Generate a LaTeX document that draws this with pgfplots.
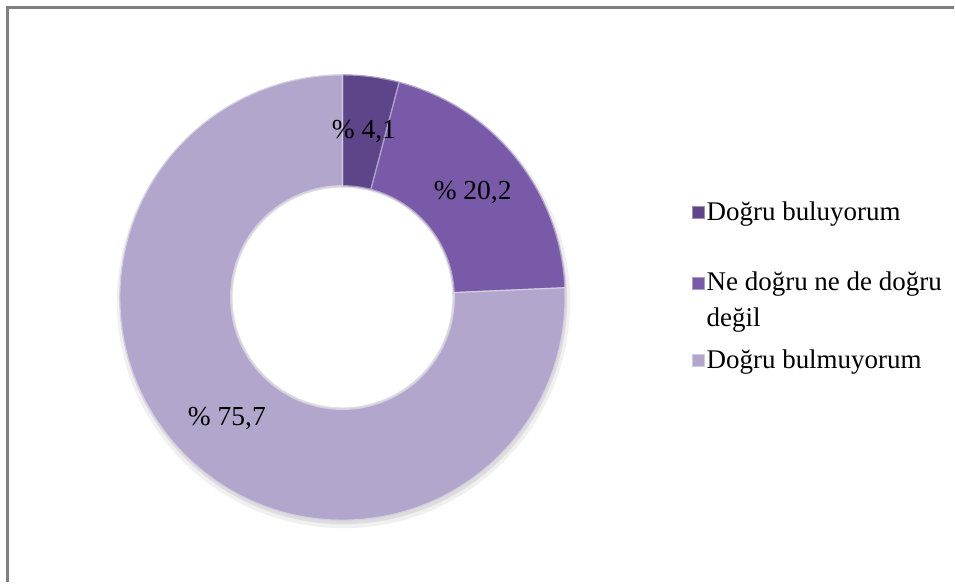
\documentclass[border=0pt]{standalone}
\usepackage{pgfplots}
\pgfplotsset{compat=1.18}
\usepackage{pgfplotstable}
\usepackage{fontspec}
\setmainfont{Liberation Serif}
\definecolor{cA}{RGB}{94,68,136}
\definecolor{cB}{RGB}{120,90,168}
\definecolor{cC}{RGB}{178,166,204}
\definecolor{frame}{RGB}{128,128,128}
\pgfplotstableread{
share
4.1
20.2
75.7
}\data
\pgfplotstablegetelem{0}{share}\of\data \let\va\pgfplotsretval
\pgfplotstablegetelem{1}{share}\of\data \let\vb\pgfplotsretval
\pgfplotstablegetelem{2}{share}\of\data \let\vc\pgfplotsretval
\pgfmathsetmacro\aA{90}
\pgfmathsetmacro\aB{\aA-3.6*\va}
\pgfmathsetmacro\aC{\aB-3.6*\vb}
\pgfmathsetmacro\aD{\aC-3.6*\vc}
\pgfmathsetmacro\mA{(\aA+\aB)/2}
\pgfmathsetmacro\mB{(\aB+\aC)/2}
\pgfmathsetmacro\mC{(\aC+\aD)/2}
\def\cx{343}\def\cy{285}\def\ro{223}\def\ri{112}
\newcommand\sector[3]{%
  \fill[#1, draw=#1!55!white, line width=1.2pt]
    (axis cs:{\cx+\ro*cos(#2)},{\cy+\ro*sin(#2)})
    arc[start angle=#2, end angle=#3, radius=\ro pt]
    -- (axis cs:{\cx+\ri*cos(#3)},{\cy+\ri*sin(#3)})
    arc[start angle=#3, end angle=#2, radius=\ri pt] -- cycle;}
\newcommand\plabel[2]{%
  \node[font=\fontsize{27.5}{31}\selectfont] at (axis cs:{\cx+167.5*cos(#1)},{\cy+167.5*sin(#1)})
    {\% \pgfmathprintnumber[fixed,precision=1,use comma,assume math mode=true]{#2}};}
\begin{document}
\begin{tikzpicture}
\begin{axis}[
  width=955pt, height=583pt, scale only axis,
  xmin=0, xmax=955, ymin=0, ymax=583,
  hide axis, clip=false,
  legend style={at={(axis cs:693,383)}, anchor=north west, draw=none, fill=none,
    font=\fontsize{27}{36}\selectfont, inner sep=0pt, row sep=17pt,
    cells={anchor=base west, align=left}},
]
\path (axis cs:0,0) rectangle (axis cs:955,583);
\draw[frame, line width=3pt] (axis cs:8,0) -- (axis cs:8,575) -- (axis cs:955,575);
% soft shadow
\fill[black, opacity=0.06] (axis cs:\cx+1,\cy-4) circle[radius=\ro pt+4pt];
\fill[black, opacity=0.08] (axis cs:\cx+1,\cy-3) circle[radius=\ro pt+1pt];
\fill[white] (axis cs:\cx,\cy) circle[radius=\ri pt-2pt];
\sector{cA}{\aA}{\aB}
\sector{cB}{\aB}{\aC}
\sector{cC}{\aC}{\aD}
\plabel{\mA}{\va}
\plabel{\mB}{\vb}
\plabel{\mC}{\vc}
\addlegendimage{legend image code/.code={\fill[cA, draw=cA!60!white, line width=0.6pt] (1pt,2pt) rectangle (13pt,14pt);}}
\addlegendentry{Doğru buluyorum}
\addlegendimage{legend image code/.code={\fill[cB, draw=cB!60!white, line width=0.6pt] (1pt,38pt) rectangle (13pt,50pt);}}
\addlegendentry{\rule{0pt}{48pt}Ne doğru ne de doğru\\değil}
\addlegendimage{legend image code/.code={\fill[cC, draw=cC!60!white, line width=0.6pt] (1pt,2pt) rectangle (13pt,14pt);}}
\addlegendentry{Doğru bulmuyorum}
\end{axis}
\end{tikzpicture}
\end{document}
